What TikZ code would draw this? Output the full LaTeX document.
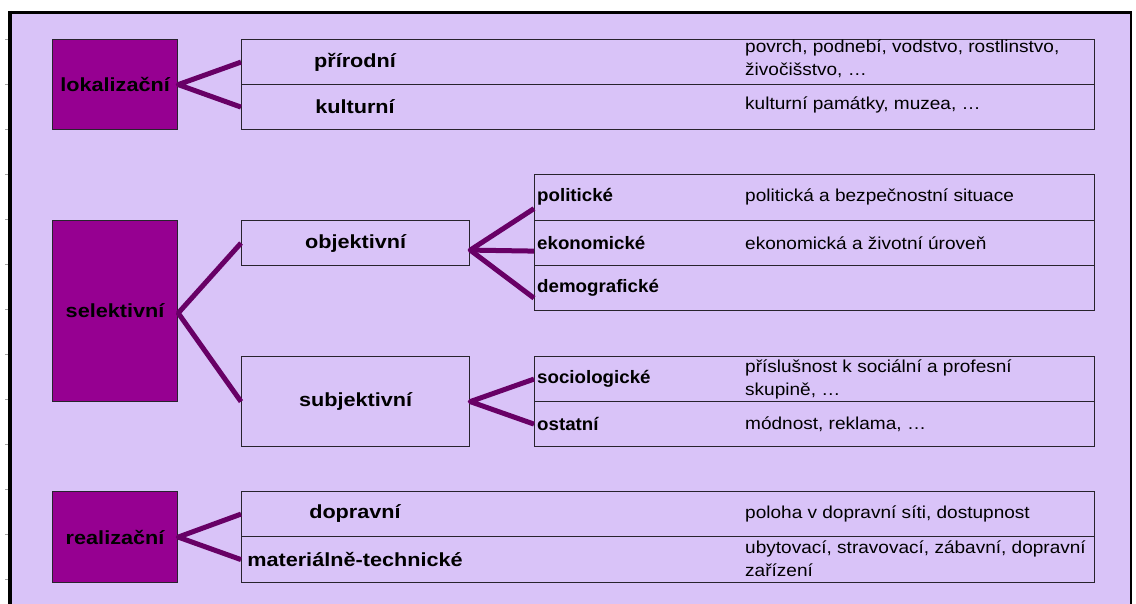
\documentclass[tikz,border=0pt]{standalone}
\usepackage{fontspec}
\setmainfont{Liberation Sans}
\newfontfamily\lblfont[FakeStretch=1.14]{Liberation Sans}
\newfontfamily\subfont[FakeStretch=1.04]{Liberation Sans}
\newfontfamily\descfont[FakeStretch=1.1]{Liberation Sans}
\usetikzlibrary{calc}
\definecolor{bgviolet}{RGB}{217,195,248}
\definecolor{catpurple}{RGB}{150,0,145}
\definecolor{linkpurple}{RGB}{104,0,102}
\definecolor{boxline}{RGB}{40,35,45}
\begin{document}
\begin{tikzpicture}[x=1pt,y=-1pt,
  catbox/.style={draw=boxline, line width=1.2pt, fill=catpurple, minimum width=125pt, inner sep=0pt, anchor=north west, font=\lblfont\bfseries\fontsize{19}{23}\selectfont, text=black},
  cellbox/.style={draw=boxline, line width=1.2pt, inner sep=0pt, anchor=north west, font=\lblfont\bfseries\fontsize{19}{23}\selectfont},
  lbl/.style={font=\lblfont\bfseries\fontsize{19}{23}\selectfont, inner sep=0pt},
  sublbl/.style={font=\subfont\bfseries\fontsize{18}{22}\selectfont, anchor=west, inner sep=0pt},
  desc/.style={font=\descfont\fontsize{17.3}{23}\selectfont, anchor=west, inner sep=0pt, align=left},
  link/.style={draw=linkpurple, line width=5pt, line join=round}]
\useasboundingbox (0,0) rectangle (1136,604);
% background and frame
\fill[white] (0,0) rectangle (1136,604);
\fill[bgviolet] (10,12) rectangle (1131,604);
\draw[line width=4pt] (10,11) -- (10,604);
\draw[line width=2.5pt] (8,12.5) -- (1132,12.5);
\draw[line width=2pt] (1131,12) -- (1131,604);
\foreach \k in {0,...,12} \draw[gray!70, line width=0.8pt] (5,{39+45*\k}) -- (8,{39+45*\k});
% category boxes
\node[catbox, minimum height=90pt] (lok) at (52,39) {lokalizační};
\node[catbox, minimum height=181pt] (sel) at (52,220) {selektivní};
\node[catbox, minimum height=91pt] (real) at (52,491) {realizační};
% wide rows
\node[cellbox, minimum width=853pt, minimum height=45pt] (prir) at (241,39) {};
\node[cellbox, minimum width=853pt, minimum height=45pt] (kult) at (241,84) {};
\node[cellbox, minimum width=853pt, minimum height=45pt] (dopr) at (241,491) {};
\node[cellbox, minimum width=853pt, minimum height=46pt] (mat) at (241,536) {};
% middle boxes
\node[cellbox, minimum width=228pt, minimum height=45pt] (obj) at (241,220) {objektivní};
\node[cellbox, minimum width=228pt, minimum height=90pt] (subj) at (241,356) {subjektivní};
% right tables
\node[cellbox, minimum width=560pt, minimum height=46pt] (pol) at (534,174) {};
\node[cellbox, minimum width=560pt, minimum height=45pt] (eko) at (534,220) {};
\node[cellbox, minimum width=560pt, minimum height=45pt] (dem) at (534,265) {};
\node[cellbox, minimum width=560pt, minimum height=45pt] (soc) at (534,356) {};
\node[cellbox, minimum width=560pt, minimum height=45pt] (ost) at (534,401) {};
% labels
\node[lbl] (tprir) at (355,62) {přírodní};
\node[lbl] (tkult) at (355,107) {kulturní};
\node[lbl] (tdopr) at (355,514) {dopravní};
\node[lbl] (tmat) at (355,559) {materiálně-technické};
\node[sublbl] (tpol) at (537,197) {politické};
\node[sublbl] (teko) at (537,243) {ekonomické};
\node[sublbl] (tdem) at (537,288) {demografické};
\node[sublbl] (tsoc) at (537,379) {sociologické};
\node[sublbl] (tost) at (537,424) {ostatní};
% descriptions
\node[desc] (dprir) at (745,59) {povrch, podnebí, vodstvo, rostlinstvo,\\živočišstvo, …};
\node[desc] (dkult) at (745,105) {kulturní památky, muzea, …};
\node[desc] (dpol) at (745,197) {politická a bezpečnostní situace};
\node[desc] (deko) at (745,243) {ekonomická a životní úroveň};
\node[desc] (dsoc) at (745,379) {příslušnost k sociální a profesní\\skupině, …};
\node[desc] (dost) at (745,424) {módnost, reklama, …};
\node[desc] (ddopr) at (745,514) {poloha v dopravní síti, dostupnost};
\node[desc] (dmat) at (745,559) {ubytovací, stravovací, zábavní, dopravní\\zařízení};
% connectors
\coordinate (selm) at ($(sel.east)+(0,2)$);
\coordinate (objm) at ($(obj.east)+(0,7)$);
\draw[link] (prir.west) -- (lok.east) -- (kult.west);
\draw[link] (obj.west) -- (selm) -- (subj.west);
\draw[link] ([yshift=-11pt]pol.west) -- (objm) -- ([yshift=-10pt]dem.west);
\draw[link] (objm) -- ([yshift=-8pt]eko.west);
\draw[link] (soc.west) -- (subj.east) -- (ost.west);
\draw[link] (dopr.west) -- (real.east) -- (mat.west);
\end{tikzpicture}
\end{document}
